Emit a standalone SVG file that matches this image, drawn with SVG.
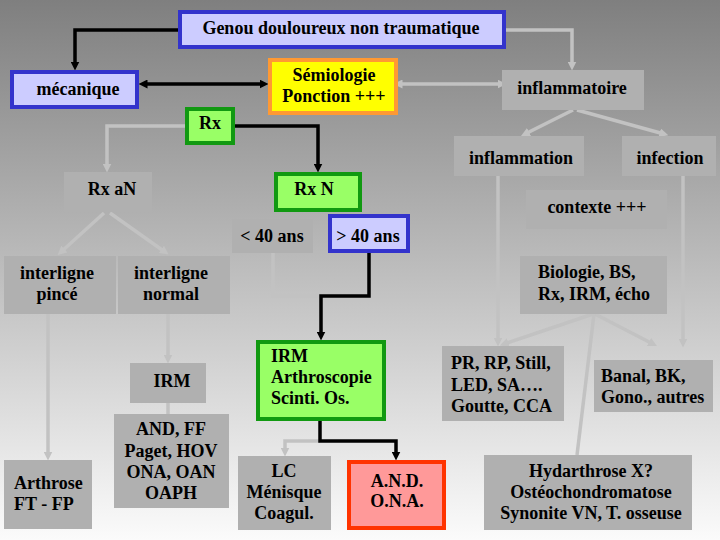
<svg xmlns="http://www.w3.org/2000/svg" width="720" height="540" viewBox="0 0 720 540">
<style>
text{font-family:"Liberation Serif","Times New Roman",serif;font-weight:bold;font-size:18px;fill:#000}
.c{text-anchor:middle}
.blue{fill:#ccccff;stroke:#3333cc;stroke-width:4}
.green{fill:#99ff66;stroke:#119911;stroke-width:4}
.yellow{fill:#ffff00;stroke:#ff9933;stroke-width:4}
.red{fill:#ff9999;stroke:#ff3300;stroke-width:4}
.gray{fill:#b0b0b0}
.lk{fill:none;stroke:#000;stroke-width:3.5}
.lg{fill:none;stroke:#c2c2c2;stroke-width:3.5}
.ak{marker-end:url(#ak)}
.ag{marker-end:url(#ag)}
</style>
<defs>
<linearGradient id="bg" x1="0" y1="0" x2="0" y2="1">
<stop offset="0" stop-color="#7f7f7f"/>
<stop offset="1" stop-color="#fbfbfb"/>
</linearGradient>
<marker id="ak" viewBox="0 0 10 10" markerWidth="9" markerHeight="9" refX="5" refY="5" orient="auto" markerUnits="userSpaceOnUse"><path d="M0,0 L10,5 L0,10 z" fill="#000"/></marker>
<marker id="aks" viewBox="0 0 10 10" markerWidth="9" markerHeight="9" refX="5" refY="5" orient="auto-start-reverse" markerUnits="userSpaceOnUse"><path d="M0,0 L10,5 L0,10 z" fill="#000"/></marker>
<marker id="ag" viewBox="0 0 10 10" markerWidth="9" markerHeight="9" refX="5" refY="5" orient="auto" markerUnits="userSpaceOnUse"><path d="M0,0 L10,5 L0,10 z" fill="#c2c2c2"/></marker>
<marker id="ags" viewBox="0 0 10 10" markerWidth="9" markerHeight="9" refX="5" refY="5" orient="auto-start-reverse" markerUnits="userSpaceOnUse"><path d="M0,0 L10,5 L0,10 z" fill="#c2c2c2"/></marker>
</defs>
<rect width="720" height="540" fill="url(#bg)"/>
<g id="connectors">
<path class="lg" d="M398,84 H502" marker-start="url(#ags)" marker-end="url(#ags)" transform="translate(0,0)"/>
<path class="lg ag" d="M506,30 H572 V66"/>
<path class="lg ag" d="M185,126 H107 V168"/>
<path class="lg ag" d="M104,213 L61,252"/>
<path class="lg ag" d="M110,213 L165,252"/>
<path class="lg" d="M273,253 V296 H321"/>
<path class="lg ag" d="M48,314 V456"/>
<path class="lg ag" d="M168,314 V359"/>
<path class="lg" d="M168,403 V414"/>
<path class="lg ag" d="M320,441 H285 V452"/>
<path class="lg ag" d="M573,110 L525,134"/>
<path class="lg ag" d="M577,110 L664,134"/>
<path class="lg ag" d="M498,176 V342"/>
<path class="lg ag" d="M683,176 V343"/>
<path class="lg ag" d="M593,314 L504,344"/>
<path class="lg ag" d="M595,314 L653,344"/>
<path class="lg" d="M594,314 L577,455"/>
<path class="lk ak" d="M178,30 H75 V66"/>
<path class="lk" d="M143,84 H264" marker-start="url(#aks)" marker-end="url(#aks)"/>
<path class="lk ak" d="M235,126 H318 V168"/>
<path class="lk ak" d="M369,253 V296 H321 V336"/>
<path class="lk ak" d="M320,421 V441 H396 V456"/>
</g>
<g id="genou"><rect class="blue" x="180" y="12" width="324" height="35"/><text class="c" x="341" y="34">Genou douloureux non traumatique</text></g>
<g id="mecanique"><rect class="blue" x="12" y="72" width="125" height="35"/><text class="c" x="78" y="95">mécanique</text></g>
<g id="semiologie"><rect class="yellow" x="270" y="60" width="126" height="53"/><text class="c" x="334" y="81">Sémiologie</text><text class="c" x="334" y="102">Ponction +++</text></g>
<g id="inflammatoire"><rect class="gray" x="502" y="70" width="142" height="40"/><text class="c" x="572" y="94">inflammatoire</text></g>
<g id="rx"><rect class="green" x="187" y="109" width="46" height="34"/><text class="c" x="210" y="129">Rx</text></g>
<g id="rxan"><rect class="gray" x="64" y="172" width="88" height="40"/><text class="c" x="112" y="195">Rx aN</text></g>
<g id="rxn"><rect class="green" x="276" y="174" width="84" height="36"/><text class="c" x="314" y="195">Rx N</text></g>
<g id="moins40"><rect class="gray" x="232" y="219" width="81" height="34"/><text class="c" x="272" y="242">&lt; 40 ans</text></g>
<g id="plus40"><rect class="blue" x="330" y="216" width="78" height="35"/><text class="c" x="368" y="242">&gt; 40 ans</text></g>
<g id="pince"><rect class="gray" x="4" y="256" width="112" height="58"/><text class="c" x="57" y="279">interligne</text><text class="c" x="57" y="300">pincé</text></g>
<g id="normal"><rect class="gray" x="118" y="256" width="112" height="58"/><text class="c" x="171" y="279">interligne</text><text class="c" x="171" y="300">normal</text></g>
<g id="inflammation"><rect class="gray" x="454" y="136" width="130" height="40"/><text class="c" x="521" y="164">inflammation</text></g>
<g id="infection"><rect class="gray" x="622" y="136" width="94" height="40"/><text class="c" x="670" y="164">infection</text></g>
<g id="contexte"><rect class="gray" x="526" y="190" width="141" height="39"/><text class="c" x="597" y="213">contexte +++</text></g>
<g id="biologie"><rect class="gray" x="520" y="256" width="147" height="58"/><text x="538" y="278">Biologie, BS,</text><text x="538" y="300">Rx, IRM, écho</text></g>
<g id="irm1"><rect class="gray" x="130" y="363" width="76" height="40"/><text class="c" x="172" y="387">IRM</text></g>
<g id="and1"><rect class="gray" x="114" y="414" width="115" height="94"/><text class="c" x="171" y="435">AND, FF</text><text class="c" x="171" y="457">Paget, HOV</text><text class="c" x="171" y="478">ONA, OAN</text><text class="c" x="171" y="499">OAPH</text></g>
<g id="arthrose"><rect class="gray" x="4" y="460" width="88" height="69"/><text x="14" y="489">Arthrose</text><text x="14" y="510">FT - FP</text></g>
<g id="irm2"><rect class="green" x="258" y="342" width="126" height="77"/><text x="271" y="362">IRM</text><text x="271" y="383">Arthroscopie</text><text x="271" y="404">Scinti. Os.</text></g>
<g id="lc"><rect class="gray" x="238" y="456" width="93" height="74"/><text class="c" x="284" y="477">LC</text><text class="c" x="284" y="498">Ménisque</text><text class="c" x="284" y="519">Coagul.</text></g>
<g id="and2"><rect class="red" x="349" y="462" width="95" height="66"/><text class="c" x="397" y="487">A.N.D.</text><text class="c" x="397" y="507">O.N.A.</text></g>
<g id="pr"><rect class="gray" x="442" y="346" width="122" height="75"/><text x="451" y="369">PR, RP, Still,</text><text x="451" y="391">LED, SA….</text><text x="451" y="412">Goutte, CCA</text></g>
<g id="banal"><rect class="gray" x="594" y="360" width="119" height="52"/><text x="601" y="382">Banal, BK,</text><text x="601" y="403">Gono., autres</text></g>
<g id="hydarthrose"><rect class="gray" x="484" y="455" width="208" height="75"/><text class="c" x="591" y="477">Hydarthrose X?</text><text class="c" x="591" y="498">Ostéochondromatose</text><text class="c" x="591" y="519">Synonite VN, T. osseuse</text></g>
</svg>
